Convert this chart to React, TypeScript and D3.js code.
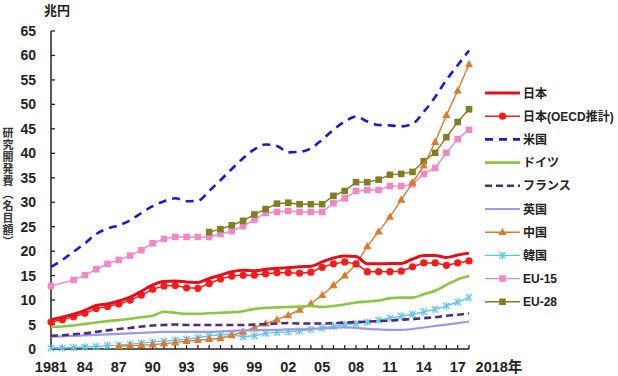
import React from "react";
import * as d3 from "d3";

const years = [1981, 1982, 1983, 1984, 1985, 1986, 1987, 1988, 1989, 1990, 1991, 1992, 1993, 1994, 1995, 1996, 1997, 1998, 1999, 2000, 2001, 2002, 2003, 2004, 2005, 2006, 2007, 2008, 2009, 2010, 2011, 2012, 2013, 2014, 2015, 2016, 2017, 2018];

const japan = [6.0, 6.5, 7.1, 7.9, 8.9, 9.2, 9.8, 10.6, 11.8, 13.1, 13.8, 13.9, 13.7, 13.6, 14.4, 15.1, 15.8, 16.1, 16.0, 16.3, 16.5, 16.6, 16.8, 16.9, 17.8, 18.6, 19.0, 18.9, 17.4, 17.4, 17.5, 17.5, 18.4, 19.1, 19.1, 18.7, 19.2, 19.6];
const japanOECD = [5.5, 6.0, 6.6, 7.3, 8.3, 8.7, 9.2, 10.0, 11.0, 12.2, 12.9, 13.0, 12.5, 12.4, 13.4, 14.3, 14.9, 15.1, 15.1, 15.4, 15.6, 15.6, 15.5, 15.7, 16.7, 17.4, 17.8, 17.4, 15.8, 15.8, 15.8, 15.9, 16.8, 17.6, 17.6, 17.1, 17.6, 18.0];
const us = [16.8, 18.2, 19.9, 21.6, 23.5, 24.6, 25.3, 26.3, 27.8, 29.2, 30.2, 30.8, 30.2, 30.3, 32.3, 34.5, 36.8, 39.0, 40.8, 41.8, 41.5, 40.2, 40.3, 41.0, 42.8, 44.8, 46.5, 47.5, 46.5, 45.8, 45.7, 45.5, 46.0, 48.5, 51.5, 55.0, 58.0, 61.0];
const germany = [4.5, 4.6, 4.8, 5.1, 5.4, 5.7, 5.9, 6.2, 6.5, 6.8, 7.6, 7.4, 7.2, 7.2, 7.3, 7.4, 7.5, 7.7, 8.2, 8.4, 8.5, 8.6, 8.7, 8.8, 8.6, 8.8, 9.1, 9.5, 9.7, 9.9, 10.4, 10.5, 10.5, 11.2, 11.9, 13.1, 14.2, 14.9];
const france = [2.7, 2.8, 3.0, 3.2, 3.5, 3.8, 4.1, 4.3, 4.6, 4.8, 4.9, 5.0, 4.9, 4.9, 4.9, 4.9, 4.9, 4.9, 5.0, 5.1, 5.2, 5.3, 5.2, 5.2, 5.2, 5.3, 5.4, 5.5, 5.6, 5.7, 5.8, 6.0, 6.1, 6.3, 6.5, 6.8, 7.0, 7.3];
const uk = [2.5, 2.6, 2.7, 2.8, 2.9, 3.0, 3.1, 3.2, 3.3, 3.4, 3.5, 3.5, 3.5, 3.5, 3.5, 3.6, 3.7, 3.8, 3.8, 3.9, 3.9, 4.0, 4.0, 4.1, 4.2, 4.3, 4.4, 4.3, 4.1, 4.0, 3.9, 3.9, 4.1, 4.4, 4.7, 5.0, 5.3, 5.6];
const china = [null, null, null, null, null, null, 0.6, 0.7, 0.8, 0.9, 1.1, 1.3, 1.6, 1.8, 2.0, 2.2, 2.8, 3.5, 4.4, 5.2, 6.0, 6.9, 8.0, 9.3, 11.0, 13.0, 15.0, 17.3, 21.0, 24.0, 27.0, 30.5, 34.0, 37.5, 42.3, 47.8, 52.8, 58.2];
const korea = [0.2, 0.2, 0.3, 0.4, 0.5, 0.7, 0.8, 1.0, 1.2, 1.4, 1.6, 1.8, 2.0, 2.3, 2.7, 2.9, 3.0, 2.5, 2.7, 3.2, 3.4, 3.5, 3.7, 4.0, 4.3, 4.6, 5.0, 5.2, 5.5, 5.9, 6.3, 6.7, 7.1, 7.6, 8.1, 8.8, 9.6, 10.5];
const eu15 = [12.9, null, 14.1, 15.1, 16.3, 17.4, 18.2, 19.1, 20.2, 21.6, 22.5, 22.9, 22.9, 22.9, 22.9, 23.5, 24.1, 25.1, 26.4, 27.8, 28.0, 28.2, 28.0, 28.0, 28.0, 29.8, 30.8, 32.3, 32.5, 32.5, 33.3, 33.3, 33.7, 35.8, 37.0, 40.1, 42.9, 44.8];
const eu28 = [null, null, null, null, null, null, null, null, null, null, null, null, null, null, 23.9, 24.5, 25.3, 26.2, 27.5, 28.6, 29.7, 29.9, 29.6, 29.6, 29.6, 31.3, 32.3, 34.1, 34.1, 34.6, 35.6, 35.8, 36.2, 38.4, 40.1, 43.3, 46.4, 49.0];

const yTicks = [0, 5, 10, 15, 20, 25, 30, 35, 40, 45, 50, 55, 60, 65];
const xTickYears = [1981, 1984, 1987, 1990, 1993, 1996, 1999, 2002, 2005, 2008, 2011, 2014, 2017];
const xTickLabels = ["1981", "84", "87", "90", "93", "96", "99", "02", "05", "08", "11", "14", "17"];
const xEndLabel = "2018年";
const unitLabel = "兆円";
const yTitle = "研究開発費（名目額）";

type Marker = "none" | "circle" | "triangle" | "star" | "square";
interface Series {
  name: string;
  values: (number | null)[];
  color: string;
  width: number;
  dash?: string;
  marker: Marker;
  smooth: boolean;
}

const series: Series[] = [
  { name: "日本", values: japan, color: "#e3101a", width: 3, marker: "none", smooth: true },
  { name: "日本(OECD推計)", values: japanOECD, color: "#ff1a1a", width: 1.5, marker: "circle", smooth: false },
  { name: "米国", values: us, color: "#1a1ad0", width: 2.6, dash: "8,6", marker: "none", smooth: true },
  { name: "ドイツ", values: germany, color: "#8cc63f", width: 2.6, marker: "none", smooth: true },
  { name: "フランス", values: france, color: "#4b2a80", width: 2.6, dash: "7,4", marker: "none", smooth: true },
  { name: "英国", values: uk, color: "#9a9ae8", width: 2.2, marker: "none", smooth: true },
  { name: "中国", values: china, color: "#dc7a30", width: 1.4, marker: "triangle", smooth: false },
  { name: "韓国", values: korea, color: "#5ec4ef", width: 1.4, marker: "star", smooth: false },
  { name: "EU-15", values: eu15, color: "#ef88c6", width: 1.4, marker: "square", smooth: false },
  { name: "EU-28", values: eu28, color: "#7f7f22", width: 1.4, marker: "square", smooth: false },
];

const drawOrder = ["EU-15", "EU-28", "韓国", "中国", "英国", "フランス", "ドイツ", "米国", "日本(OECD推計)", "日本"];

const FONT = "'Liberation Sans', Arial, 'Noto Sans CJK JP', sans-serif";
const CJK = "'Noto Sans CJK JP', 'Liberation Sans', sans-serif";

function MarkerShape({ type, x, y, color }: { type: Marker; x: number; y: number; color: string }) {
  if (type === "circle") return <circle cx={x} cy={y} r={3.6} fill={color} />;
  if (type === "square") return <rect x={x - 3.3} y={y - 3.3} width={6.6} height={6.6} fill={color} />;
  if (type === "triangle") {
    const p = d3.symbol(d3.symbolTriangle, 30)();
    return <path d={p || ""} transform={`translate(${x},${y + 0.5})`} fill={color} />;
  }
  if (type === "star") {
    const s = 3.2;
    return (
      <g stroke={color} strokeWidth={1.2}>
        <line x1={x - s} y1={y - s} x2={x + s} y2={y + s} />
        <line x1={x - s} y1={y + s} x2={x + s} y2={y - s} />
        <line x1={x} y1={y - s - 0.5} x2={x} y2={y + s + 0.5} />
      </g>
    );
  }
  return null;
}

export default function App() {
  const W = 618, H = 376;
  const x = d3.scaleLinear().domain([1981, 2018]).range([51, 469]);
  const y = d3.scaleLinear().domain([0, 65]).range([349, 31]);

  const byName = new Map(series.map((s) => [s.name, s]));

  const legendX0 = 485, legendX1 = 520, legendY0 = 93, legendStep = 23.2;

  return (
    <svg width={W} height={H} style={{ position: "absolute", left: 0, top: 0, background: "#fff" }} fontFamily={FONT}>
      <rect width={W} height={H} fill="#fff" />
      {/* unit */}
      <text x={57} y={15} fontSize={13} fontWeight={700} textAnchor="middle" fill="#222" fontFamily={CJK}>{unitLabel}</text>
      {/* y title (vertical) */}
      <text x={8} y={127} fontSize={11} fontWeight={700} fill="#333" fontFamily={CJK} style={{ writingMode: "vertical-rl" as any }} letterSpacing={1.2}>{yTitle}</text>
      {/* axes */}
      <line x1={51} y1={y(65)} x2={51} y2={y(0)} stroke="#222" strokeWidth={1.5} />
      <line x1={51} y1={y(0)} x2={469} y2={y(0)} stroke="#222" strokeWidth={1.5} />
      {yTicks.map((t) => (
        <g key={t}>
          <line x1={51} x2={55} y1={y(t)} y2={y(t)} stroke="#222" strokeWidth={1.3} />
          <text x={36} y={y(t) + 5} fontSize={14} fontWeight={700} textAnchor="end" fill="#222">{t}</text>
        </g>
      ))}
      {years.map((yr) => (
        <line key={yr} x1={x(yr)} x2={x(yr)} y1={y(0)} y2={y(0) - 4} stroke="#222" strokeWidth={1.3} />
      ))}
      {xTickYears.map((yr, i) => (
        <text key={yr} x={x(yr)} y={372} fontSize={14.5} fontWeight={700} textAnchor="middle" fill="#222">{xTickLabels[i]}</text>
      ))}
      <text x={499} y={372} fontSize={14.5} fontWeight={700} textAnchor="middle" fill="#222">{xEndLabel}</text>

      {/* series */}
      {drawOrder.map((name) => {
        const s = byName.get(name)!;
        const pts = years.map((yr, i) => [yr, s.values[i]] as [number, number | null]).filter((p) => p[1] !== null) as [number, number][];
        const gen = d3.line<[number, number]>().x((p) => x(p[0])).y((p) => y(p[1])).curve(s.smooth ? d3.curveMonotoneX : d3.curveLinear);
        return (
          <g key={name}>
            <path d={gen(pts) || ""} fill="none" stroke={s.color} strokeWidth={s.width} strokeDasharray={s.dash} strokeLinejoin="round" />
            {s.marker !== "none" && pts.map((p) => <MarkerShape key={p[0]} type={s.marker} x={x(p[0])} y={y(p[1])} color={s.color} />)}
          </g>
        );
      })}

      {/* legend */}
      {series.map((s, i) => {
        const ly = legendY0 + i * legendStep;
        return (
          <g key={s.name}>
            <line x1={legendX0} x2={legendX1} y1={ly} y2={ly} stroke={s.color} strokeWidth={s.width} strokeDasharray={s.dash} />
            {s.marker !== "none" && <MarkerShape type={s.marker} x={(legendX0 + legendX1) / 2} y={ly} color={s.color} />}
            <text x={legendX1 + 3} y={ly + 4.5} fontSize={12} fontWeight={700} fill="#222">{s.name}</text>
          </g>
        );
      })}
    </svg>
  );
}
